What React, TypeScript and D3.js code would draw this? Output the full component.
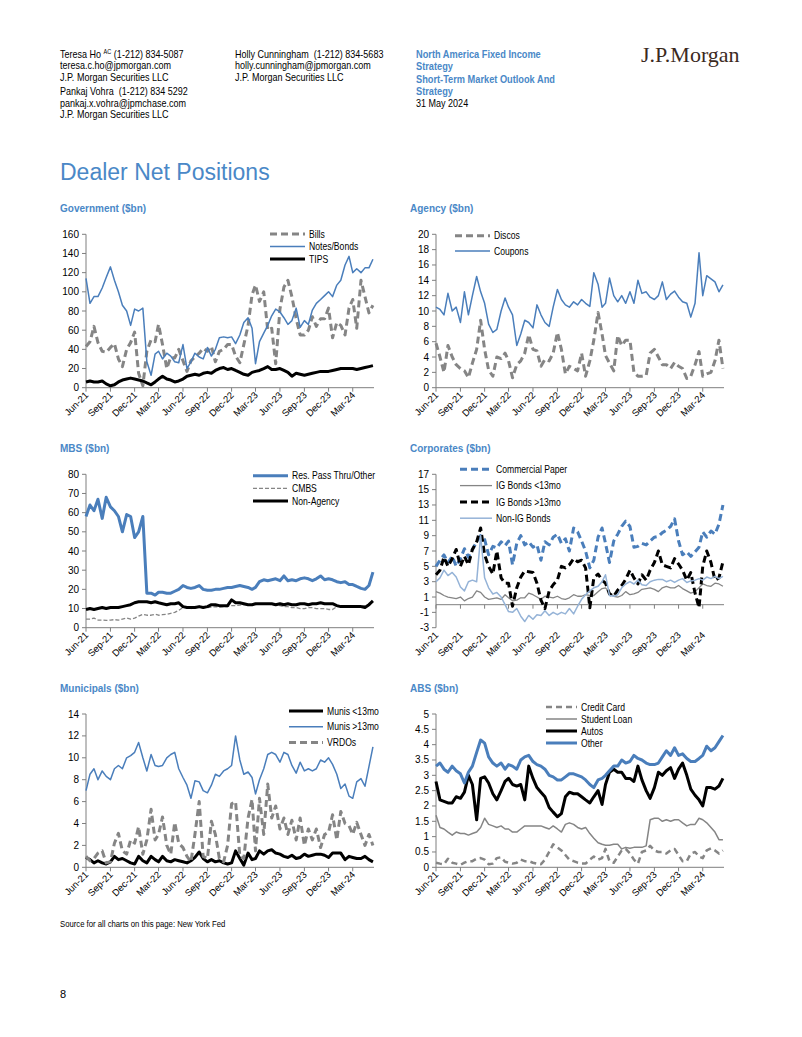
import React from "react";
import * as d3 from "d3";

// semi-monthly observation dates, Jun-21 .. mid May-24
const dates = d3.range(72).map((i) => new Date(2021, 5 + Math.floor(i / 2), i % 2 === 0 ? 1 : 16));
const xStart = new Date(2021, 5, 1);
const xEnd = new Date(2024, 4, 20);
const xTickLabels = ["Jun-21", "Sep-21", "Dec-21", "Mar-22", "Jun-22", "Sep-22", "Dec-22", "Mar-23", "Jun-23", "Sep-23", "Dec-23", "Mar-24"];
const parseTick = d3.timeParse("%b-%y");

// Government ($bn)
const govBills = [43, 48, 64, 47, 38, 37, 42, 46, 30, 22, 40, 47, 58, 15, 2, 38, 50, 48, 66, 45, 20, 32, 31, 40, 28, 17, 28, 32, 36, 41, 38, 43, 27, 38, 40, 45, 45, 33, 26, 45, 65, 97, 107, 90, 100, 60, 62, 25, 82, 105, 112, 95, 72, 55, 55, 60, 74, 64, 72, 72, 83, 52, 68, 65, 55, 83, 92, 62, 112, 95, 78, 86];
const govNotes = [114, 88, 95, 95, 104, 115, 126, 112, 100, 86, 80, 65, 82, 80, 83, 27, 13, 35, 38, 30, 36, 33, 27, 26, 45, 20, 27, 36, 32, 30, 42, 33, 40, 52, 53, 52, 53, 46, 55, 68, 73, 62, 25, 48, 57, 65, 75, 82, 79, 73, 66, 70, 83, 63, 70, 66, 81, 88, 92, 96, 100, 95, 107, 112, 128, 137, 120, 124, 120, 125, 125, 134];
const govTips = [6, 7, 6, 6, 7, 4, 2, 3, 6, 8, 9, 10, 9, 8, 7, 5, 3, 6, 9, 12, 9, 8, 6, 7, 9, 12, 13, 14, 13, 15, 16, 15, 18, 20, 21, 19, 20, 18, 16, 14, 13, 16, 17, 18, 20, 22, 19, 19, 20, 18, 16, 12, 15, 14, 13, 14, 15, 16, 17, 17, 17, 18, 19, 20, 20, 20, 20, 19, 20, 21, 22, 23];
const govTicks = [0, 20, 40, 60, 80, 100, 120, 140, 160];

// Agency ($bn)
const agencyDiscos = [5.8, 4, 2, 5.5, 4, 3, 2.5, 2.2, 1.3, 3.2, 5, 8.8, 5, 2.3, 1.5, 4, 3.8, 4.5, 3.5, 1.3, 3, 3.5, 4.5, 6.9, 5, 4.8, 2.8, 3.7, 3.5, 4.5, 7.2, 5, 1.8, 2.8, 2.5, 2.2, 4.5, 1.5, 3.5, 6.2, 9.8, 7, 4.2, 3.2, 2.2, 6.8, 5.5, 6.2, 6.2, 2, 1.5, 1.5, 1.6, 4.5, 5, 4, 3, 3, 2.5, 3.3, 2.8, 2.5, 1.2, 1.5, 3, 4.7, 1.5, 1.8, 2, 3.5, 6.2, 2.5];
const agencyCoupons = [10.5, 10.2, 9.5, 12.3, 10, 10.5, 8.5, 12.5, 9.5, 12, 14.5, 12.5, 11, 8.3, 7.2, 7.6, 10, 11.7, 10.5, 9.5, 5.5, 7, 8.8, 8.5, 7.8, 10.8, 9.5, 8.5, 8, 10.5, 12.8, 11.5, 10.8, 10.5, 11.2, 10.8, 11.5, 11, 10.6, 15, 13.5, 10.5, 11, 14.3, 12, 11.2, 12, 11, 12.5, 11, 14, 12.3, 12.5, 11.8, 11.5, 12, 13.8, 11.5, 12.2, 12.6, 11.8, 11.2, 11, 9.2, 11, 17.6, 12, 14.6, 14.2, 13.8, 12.5, 13.4];
const agencyTicks = [0, 2, 4, 6, 8, 10, 12, 14, 16, 18, 20];

// MBS ($bn)
const mbsResPass = [58, 64, 61, 67, 57, 68, 63, 61, 58, 50, 59, 58, 47, 50, 58, 18, 18, 17, 18.5, 18.5, 18, 18, 19, 20, 22, 21, 20.5, 21, 22, 20, 19.5, 19.5, 20, 20, 20.5, 21, 21, 21.5, 22, 21.5, 21, 20, 21, 24, 25, 24.5, 25, 25.5, 24.5, 27, 24.5, 25, 24.5, 25.5, 26, 25.5, 24.5, 25.5, 27, 25, 25.5, 25, 24, 23.5, 24, 22.5, 22.5, 21.5, 20.5, 20, 22, 29];
const mbsCmbs = [4.5, 4.5, 5, 4, 4, 3.8, 4, 4.2, 4, 4.5, 5, 4.5, 5, 6, 7, 6.5, 6.5, 7, 6.5, 6.8, 7, 7.5, 8, 9, 10.5, 11, 10, 10.5, 10.5, 10.5, 10.5, 10.8, 11, 10.8, 11, 11, 11.5, 11.5, 11.8, 12, 12, 12, 12, 12.5, 12.5, 12.5, 12, 12, 11.5, 11, 11, 10.5, 10.5, 10, 10, 10.5, 10.5, 10, 10, 10, 9.5, 9.5, 11, 11, 11, 11, 11.5, 11.5, 11.5, 11.5, 12, 12];
const mbsNonAgency = [9.5, 10, 9.5, 10, 10.5, 10, 10.5, 10.5, 10.5, 11, 11.5, 12, 13, 13.5, 13.5, 13.5, 13, 13.5, 13, 12.5, 12, 12.5, 12.5, 13, 11, 10.5, 10.5, 10.5, 11, 10.5, 11, 12, 12, 11.5, 11.5, 11.5, 14.5, 13, 13, 12.5, 12, 12, 12.5, 12.5, 12.5, 12.5, 12.5, 12, 12.5, 12, 12.5, 12, 12, 12.5, 12.5, 12, 12.5, 12.5, 13, 12.5, 12.5, 12.5, 11.5, 11, 11, 11, 11, 11, 11, 10.5, 12, 14];
const mbsTicks = [0, 10, 20, 30, 40, 50, 60, 70, 80];

// Corporates ($bn)
const corpCP = [5, 5.8, 6.5, 5.5, 6.3, 5, 6, 7.3, 6.2, 7.2, 8.2, 9, 8.5, 6.5, 7.6, 7.4, 8.2, 7.7, 8.3, 5.2, 8, 9, 7.8, 8.2, 7.5, 7.8, 5.8, 8.2, 7.8, 8.8, 9.2, 8, 8.6, 7, 10, 9.5, 8.3, 7, 4.8, 5.8, 8.8, 10, 8, 5.5, 8.3, 9.2, 10.2, 10.9, 10.2, 7.5, 7.6, 8, 7.8, 8.3, 8.8, 8.9, 9.4, 9.7, 10.2, 11.2, 8.3, 6.5, 6.9, 6.3, 6.9, 7.5, 9.5, 8.8, 9.6, 9.2, 10.5, 13];
const corpIgShort = [1.7, 1.5, 1.2, 1.0, 0.9, 0.8, 1.0, 0.5, 0.8, 1.0, 1.8, 1.6, 1.0, 0.7, 0.8, 0.9, 0.7, 1.3, 0.9, 0.5, 0.6, 0.9, 0.9, 1.5, 1.3, 1.0, 0.7, 1.1, 1.0, 0.9, 1.1, 0.8, 0.7, 0.9, 1.3, 1.1, 1.1, 1.3, 1.2, 1.2, 1.7, 2.1, 2.2, 1.6, 1.1, 1.0, 1.2, 1.7, 1.3, 1.4, 1.6, 2.0, 2.1, 2.2, 2.0, 1.7, 2.2, 2.4, 2.2, 2.2, 2.5, 2.1, 1.8, 1.5, 1.7, 2.2, 2.7, 2.5, 2.4, 2.8, 2.7, 2.4];
const corpIgLong = [3.9, 4.5, 6.2, 5, 6, 7.2, 5, 6.3, 5.2, 7.2, 8.2, 10, 6.5, 5, 4, 7, 3.5, 2.8, 2.8, -0.2, 2.2, 3.6, 4.4, 4.3, 4.2, 2.8, 0.6, -0.5, 1.8, 2.6, 3.2, 5, 4.8, 5.2, 6, 5.6, 5.8, 4.8, -0.4, 3.5, 4, 3.2, 2.8, 1.4, 1.1, 1.9, 2.5, 3.3, 4.5, 3.5, 2.7, 3.9, 3.2, 4.5, 5.5, 7, 5.2, 5, 4.8, 6, 5.3, 4.5, 3.2, 4.2, 1.5, -0.4, 5, 7, 5.5, 3.2, 3.5, 5.6];
const corpNonIg = [3, 3.5, 4.5, 3.8, 4.2, 3.6, 2.3, 1.8, 3, 3.2, 3, 9, 3.5, 2.2, 1.4, 1.6, 1, 0, -0.9, -1, -0.5, -1.5, -2.2, -1.4, -1.9, -1.3, -1.4, -0.8, -1.4, -1, -1.3, -1, -1.2, -0.5, -1.2, -0.2, 0.7, 1.3, 1.8, 2.2, 2.4, 3, 3.9, 1.2, 1.1, 1.3, 2.2, 2.7, 3, 2.7, 3.2, 2.6, 2.5, 3, 3.2, 3.3, 3.3, 3, 3.2, 2.9, 3.2, 3.4, 2.9, 3.1, 3.2, 3.4, 3.2, 3.6, 3.4, 3.7, 3.4, 3.7];
const corpTicks = [-3, -1, 1, 3, 5, 7, 9, 11, 13, 15, 17];

// Municipals ($bn)
const muniShort = [0.9, 0.7, 0.4, 0.6, 0.4, 0.3, 0.5, 1.0, 0.7, 0.8, 0.6, 0.4, 0.3, 1.0, 0.6, 0.4, 1.0, 0.7, 0.5, 1.0, 0.6, 0.5, 0.7, 0.6, 0.5, 0.4, 0.6, 0.9, 1.4, 0.8, 0.5, 0.7, 0.5, 0.6, 0.4, 0.3, 0.4, 1.5, 0.8, 0.2, 1.3, 0.7, 0.8, 1.5, 1.2, 1.5, 1.6, 1.3, 1.2, 1.0, 0.9, 1.1, 0.8, 0.9, 1.2, 1.0, 1.1, 1.2, 1.2, 1.1, 0.9, 1.3, 1.3, 1.3, 0.7, 1.0, 0.9, 0.8, 0.8, 1.0, 0.7, 0.5];
const muniLong = [7, 8.5, 9, 8, 8.8, 8.3, 8, 9, 9.3, 9, 10, 10.2, 10.5, 11.4, 10, 8.8, 10.3, 9.3, 9.2, 9.3, 10, 10.3, 10.5, 9, 8.2, 7.5, 6.3, 7.9, 7.8, 7, 6.8, 7.5, 8.5, 8.3, 8.8, 9, 9.3, 12, 9.8, 8.5, 8.7, 8.2, 6.7, 8, 9, 10.3, 10.5, 10.3, 9.6, 10.5, 10.3, 9.3, 8.6, 9.6, 8.8, 9, 8.8, 9, 9.8, 9.6, 10, 9.4, 8.5, 7.2, 7.6, 6.5, 6.3, 7.8, 8.1, 7.4, 9.2, 11];
const muniVrdo = [1, 0.6, 0.8, 1.3, 1.5, 0.4, 0.5, 2.2, 3.1, 1.5, 1.2, 2.5, 2.2, 3.7, 1.2, 2.5, 5.3, 2.5, 3.0, 4.6, 2, 1.2, 4.1, 2.2, 1.8, 1, 0.5, 3, 6, 1, 0.8, 4.2, 3, 0.8, 0.5, 2, 5.8, 6, 1, 0.8, 4.5, 6.2, 1.5, 6.3, 3, 7.6, 4.5, 5.6, 3.5, 4.5, 3, 4.3, 2.5, 4.5, 2, 3.5, 2.5, 3.5, 1.8, 3, 3.2, 4.8, 2.5, 5.1, 4, 3.8, 3, 4.1, 3, 2, 3, 2];
const muniTicks = [0, 2, 4, 6, 8, 10, 12, 14];

// ABS ($bn)
const absCard = [0.15, 0.12, 0.1, 0.28, 0.15, 0.12, 0.08, 0.15, 0.2, 0.2, 0.28, 0.3, 0.25, 0.1, 0.12, 0.3, 0.33, 0.18, 0.15, 0.12, 0.15, 0.25, 0.2, 0.2, 0.15, 0.12, 0.1, 0.25, 0.5, 0.75, 0.65, 0.55, 0.4, 0.25, 0.2, 0.15, 0.12, 0.12, 0.25, 0.35, 0.25, 0.3, 0.6, 0.2, 0.15, 0.35, 0.55, 0.6, 0.45, 0.25, 0.12, 0.5, 0.55, 0.7, 0.55, 0.5, 0.5, 0.45, 0.55, 0.6, 0.4, 0.2, 0.2, 0.45, 0.5, 0.35, 0.3, 0.55, 0.62, 0.55, 0.45, 0.55];
const absStudent = [1.7, 1.3, 1.25, 1.15, 1.05, 1.15, 1.1, 1.1, 1.05, 1.1, 1.15, 1.3, 1.6, 1.4, 1.35, 1.3, 1.35, 1.25, 1.25, 1.15, 1.15, 1.25, 1.35, 1.35, 1.35, 1.35, 1.35, 1.3, 1.25, 1.35, 1.25, 1.15, 1.4, 1.45, 1.4, 1.3, 1.25, 1.3, 1.1, 0.95, 0.8, 0.75, 0.72, 0.72, 0.75, 0.75, 0.6, 0.65, 0.62, 0.65, 0.65, 0.65, 0.7, 1.55, 1.6, 1.6, 1.5, 1.55, 1.5, 1.55, 1.55, 1.45, 1.35, 1.4, 1.4, 1.6, 1.55, 1.45, 1.3, 1.15, 0.9, 0.9];
const absAutos = [2.8, 2.2, 2.15, 2.1, 2.1, 2.3, 2.25, 2.45, 3.0, 2.7, 1.55, 2.9, 2.95, 2.75, 2.4, 2.2, 2.5, 2.8, 2.9, 2.7, 2.65, 2.7, 2.2, 3.3, 2.9, 2.6, 2.45, 2.3, 1.95, 1.8, 1.65, 1.75, 2.3, 2.45, 2.4, 2.4, 2.3, 2.2, 2.1, 2.3, 2.5, 2.05, 2.7, 3.1, 3.2, 3.1, 3.1, 2.9, 2.9, 2.8, 3.3, 2.85, 2.5, 2.25, 2.6, 3.1, 3.0, 3.15, 3.25, 2.9, 3.2, 3.4, 3.0, 2.55, 2.35, 2.2, 2.0, 2.6, 2.6, 2.55, 2.65, 2.9];
const absOther = [3.3, 3.4, 3.2, 3.1, 3.3, 3.15, 3.05, 2.75, 3.1, 3.3, 3.75, 4.15, 4.05, 3.6, 3.4, 3.3, 3.4, 3.2, 3.35, 3.3, 3.2, 3.5, 3.6, 3.65, 3.45, 3.35, 3.3, 3.2, 3.0, 2.95, 2.85, 2.85, 2.95, 3.05, 3.05, 3.0, 2.95, 2.85, 2.7, 2.6, 2.85, 2.9, 3.0, 3.15, 3.3, 3.3, 3.5, 3.4, 3.45, 3.65, 3.55, 3.5, 3.4, 3.35, 3.35, 3.4, 3.6, 3.8, 3.65, 3.9, 3.65, 3.7, 3.55, 3.45, 3.45, 3.55, 3.65, 3.95, 3.8, 3.9, 4.1, 4.3];
const absTicks = [0, 0.5, 1, 1.5, 2, 2.5, 3, 3.5, 4, 4.5, 5];

const BLUE = "#4a7ebb";
const GRAY = "#858585";
const LIGHT_BLUE = "#95b3d7";
const TITLE_BLUE = "#4a88c7";
const SANS = "'Liberation Sans', Arial, sans-serif";

// Arial-Narrow look: regular sans squeezed horizontally
function NText({ x, y, sx = 0.86, children, ...rest }: any) {
  return (
    <text transform={`translate(${x},${y}) scale(${sx},1)`} fontFamily={SANS} {...rest}>
      {children}
    </text>
  );
}

type Series = { name: string; values: number[]; color: string; width: number; dash?: string };
type ChartProps = {
  title: string;
  left: number;
  top: number;
  bottom: number;
  domain: [number, number];
  ticks: number[];
  series: Series[];
  legendX: number;
  legendLen: number;
  legendY: number;
  legendStep: number;
  zeroAxis?: boolean;
};

function LineChart(p: ChartProps) {
  const x = d3.scaleTime().domain([xStart, xEnd]).range([p.left, p.left + 288]);
  const y = d3.scaleLinear().domain(p.domain).range([p.bottom, p.top]);
  const line = d3
    .line<number>()
    .x((_, i) => x(dates[i]))
    .y((d) => y(d));
  const axisY = p.zeroAxis ? y(0) : p.bottom;
  const tickDates = xTickLabels.map((t) => parseTick(t) as Date);
  return (
    <g>
      <text x={p.left - 26} y={p.top - 22} fontFamily={SANS} fontWeight="bold" fontSize={10} fill={TITLE_BLUE}>
        {p.title}
      </text>
      {p.ticks.map((t) => (
        <g key={t}>
          <line x1={p.left - 4} x2={p.left} y1={y(t)} y2={y(t)} stroke="#7f7f7f" />
          <text x={p.left - 7} y={y(t)} dy="0.35em" textAnchor="end" fontFamily={SANS} fontSize={10} fill="#000">
            {t}
          </text>
        </g>
      ))}
      <line x1={p.left} x2={p.left} y1={p.top} y2={p.bottom} stroke="#7f7f7f" />
      <line x1={p.left} x2={p.left + 288} y1={axisY} y2={axisY} stroke="#7f7f7f" />
      {tickDates.map((d, i) => (
        <g key={i}>
          <line x1={x(d)} x2={x(d)} y1={axisY} y2={axisY + 4} stroke="#7f7f7f" />
          <text
            transform={`translate(${x(d) + 3},${p.bottom + 8}) rotate(-45)`}
            textAnchor="end"
            fontFamily={SANS}
            fontSize={9.5}
            fill="#000"
          >
            {xTickLabels[i]}
          </text>
        </g>
      ))}
      {p.series.map((s) => (
        <path
          key={s.name}
          d={line(s.values) || ""}
          fill="none"
          stroke={s.color}
          strokeWidth={s.width}
          strokeDasharray={s.dash}
          strokeLinejoin="round"
        />
      ))}
      {p.series.map((s, i) => {
        const ly = p.legendY + i * p.legendStep;
        return (
          <g key={"lg" + s.name}>
            <line
              x1={p.legendX}
              x2={p.legendX + p.legendLen}
              y1={ly}
              y2={ly}
              stroke={s.color}
              strokeWidth={s.width}
              strokeDasharray={s.dash}
            />
            <NText x={p.legendX + p.legendLen + 4} y={ly} sx={0.82} dy="0.35em" fontSize={10.5} fill="#000">
              {s.name}
            </NText>
          </g>
        );
      })}
    </g>
  );
}

export default function App() {
  const hdr = { fontSize: 10.5, fill: "#000", sx: 0.86 };
  const hdrBlue = { fontSize: 10.5, fill: TITLE_BLUE, fontWeight: "bold", sx: 0.88 };
  return (
    <svg width={802} height={1037} style={{ position: "absolute", left: 0, top: 0, background: "#fff" }}>
      <rect width={802} height={1037} fill="#fff" />
      <NText x={60} y={57.5} {...hdr}>
        Teresa Ho <tspan fontSize={6.5} dy={-3.5}>AC</tspan>
        <tspan dy={3.5}> (1-212) 834-5087</tspan>
      </NText>
      <NText x={60} y={69} {...hdr}>teresa.c.ho@jpmorgan.com</NText>
      <NText x={60} y={81} {...hdr}>J.P. Morgan Securities LLC</NText>
      <NText x={60} y={95} {...hdr} style={{ whiteSpace: "pre" }}>Pankaj Vohra  (1-212) 834 5292</NText>
      <NText x={60} y={106.5} {...hdr}>pankaj.x.vohra@jpmchase.com</NText>
      <NText x={60} y={118} {...hdr}>J.P. Morgan Securities LLC</NText>

      <NText x={235} y={57.5} {...hdr} style={{ whiteSpace: "pre" }}>Holly Cunningham  (1-212) 834-5683</NText>
      <NText x={235} y={69} {...hdr}>holly.cunningham@jpmorgan.com</NText>
      <NText x={235} y={81} {...hdr}>J.P. Morgan Securities LLC</NText>

      <NText x={416} y={57.5} {...hdrBlue}>North America Fixed Income</NText>
      <NText x={416} y={69.5} {...hdrBlue}>Strategy</NText>
      <NText x={416} y={82.5} {...hdrBlue}>Short-Term Market Outlook And</NText>
      <NText x={416} y={94.5} {...hdrBlue}>Strategy</NText>
      <NText x={416} y={106.5} {...hdr}>31 May 2024</NText>

      <text x={641} y={62} fontFamily="'Liberation Serif', 'Times New Roman', serif" fontSize={22} fill="#3b2a1e">
        J.P.Morgan
      </text>

      <text x={60} y={180} fontFamily={SANS} fontSize={23} fill={TITLE_BLUE}>
        Dealer Net Positions
      </text>

      <LineChart
        title="Government ($bn)"
        left={86}
        top={234.3}
        bottom={387.7}
        domain={[0, 160]}
        ticks={govTicks}
        legendX={270}
        legendLen={35}
        legendY={234}
        legendStep={12.5}
        series={[
          { name: "Bills", values: govBills, color: GRAY, width: 3, dash: "7,4" },
          { name: "Notes/Bonds", values: govNotes, color: BLUE, width: 1.5 },
          { name: "TIPS", values: govTips, color: "#000", width: 3 },
        ]}
      />
      <LineChart
        title="Agency ($bn)"
        left={436}
        top={234.3}
        bottom={387.7}
        domain={[0, 20]}
        ticks={agencyTicks}
        legendX={455}
        legendLen={35}
        legendY={235.7}
        legendStep={15.3}
        series={[
          { name: "Discos", values: agencyDiscos, color: GRAY, width: 3, dash: "7,4" },
          { name: "Coupons", values: agencyCoupons, color: BLUE, width: 1.5 },
        ]}
      />
      <LineChart
        title="MBS ($bn)"
        left={86}
        top={474.3}
        bottom={627.7}
        domain={[0, 80]}
        ticks={mbsTicks}
        legendX={253}
        legendLen={35}
        legendY={475.7}
        legendStep={12.6}
        series={[
          { name: "Res. Pass Thru/Other", values: mbsResPass, color: BLUE, width: 3 },
          { name: "CMBS", values: mbsCmbs, color: GRAY, width: 1.3, dash: "4,2" },
          { name: "Non-Agency", values: mbsNonAgency, color: "#000", width: 3 },
        ]}
      />
      <LineChart
        title="Corporates ($bn)"
        left={436}
        top={474.3}
        bottom={627.7}
        domain={[-3, 17]}
        ticks={corpTicks}
        zeroAxis
        legendX={460}
        legendLen={32}
        legendY={469.3}
        legendStep={16.3}
        series={[
          { name: "Commercial Paper", values: corpCP, color: BLUE, width: 3, dash: "7,4" },
          { name: "IG Bonds <13mo", values: corpIgShort, color: GRAY, width: 1.3 },
          { name: "IG Bonds >13mo", values: corpIgLong, color: "#000", width: 3, dash: "7,4" },
          { name: "Non-IG Bonds", values: corpNonIg, color: LIGHT_BLUE, width: 1.5 },
        ]}
      />
      <LineChart
        title="Municipals ($bn)"
        left={86}
        top={714}
        bottom={867.3}
        domain={[0, 14]}
        ticks={muniTicks}
        legendX={289}
        legendLen={34}
        legendY={711}
        legendStep={15.8}
        series={[
          { name: "Munis <13mo", values: muniShort, color: "#000", width: 3 },
          { name: "Munis >13mo", values: muniLong, color: BLUE, width: 1.5 },
          { name: "VRDOs", values: muniVrdo, color: GRAY, width: 3, dash: "7,4" },
        ]}
      />
      <LineChart
        title="ABS ($bn)"
        left={436}
        top={714}
        bottom={867.3}
        domain={[0, 5]}
        ticks={absTicks}
        legendX={546}
        legendLen={31}
        legendY={707}
        legendStep={12}
        series={[
          { name: "Credit Card", values: absCard, color: GRAY, width: 2.5, dash: "6,4" },
          { name: "Student Loan", values: absStudent, color: GRAY, width: 1.5 },
          { name: "Autos", values: absAutos, color: "#000", width: 3 },
          { name: "Other", values: absOther, color: BLUE, width: 3 },
        ]}
      />

      <NText x={60} y={927} sx={0.86} fontSize={9} fill="#000">
        Source for all charts on this page: New York Fed
      </NText>
      <text x={60} y={998} fontFamily={SANS} fontSize={11} fill="#000">
        8
      </text>
    </svg>
  );
}
